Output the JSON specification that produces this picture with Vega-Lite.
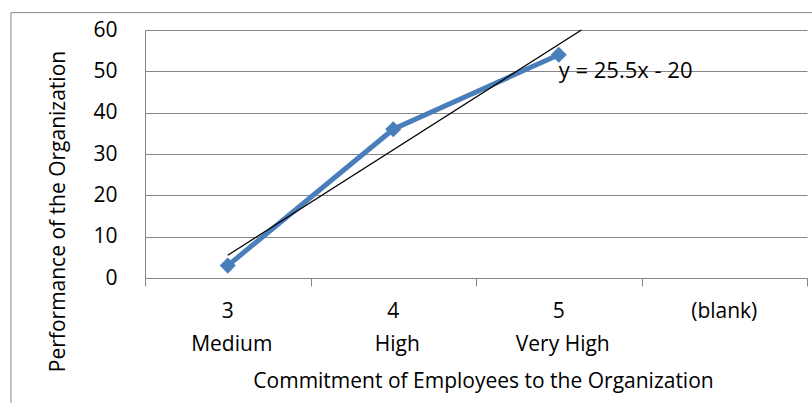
{
  "$schema": "https://vega.github.io/schema/vega-lite/v6.json",
  "width": 662,
  "height": 248,
  "autosize": "none",
  "padding": {"left": 145, "top": 30, "right": 5, "bottom": 125},
  "background": "white",
  "config": {"view": {"stroke": null}, "font": "Open Sans"},
  "datasets": {
    "series": [
      {"pos": 1, "value": 3},
      {"pos": 2, "value": 36},
      {"pos": 3, "value": 54}
    ],
    "cats": [
      {"pos": 1, "num": "3", "level": "Medium"},
      {"pos": 2, "num": "4", "level": "High"},
      {"pos": 3, "num": "5", "level": "Very High"},
      {"pos": 4, "num": "(blank)", "level": ""}
    ],
    "trend": [
      {"pos": 1, "value": 5.5},
      {"pos": 3.137, "value": 60}
    ],
    "eq": [{"pos": 3.0, "value": 50, "label": "y = 25.5x - 20"}],
    "frame": [{"x": -0.31, "x2": 5, "top": 64.2, "bottom": -32}]
  },
  "layer": [
    {
      "data": {"name": "series"},
      "mark": {"type": "line", "color": "#4A7EBB", "strokeWidth": 5},
      "encoding": {
        "x": {
          "field": "pos", "type": "quantitative",
          "scale": {"domain": [0.5, 4.5], "nice": false, "zero": false},
          "axis": {
            "values": [0.5, 1.5, 2.5, 3.5, 4.5],
            "labels": false, "grid": false,
            "domainColor": "#868686", "tickColor": "#868686", "tickSize": 8,
            "title": "Commitment of Employees to the Organization",
            "titleFont": "Open Sans", "titleFontSize": 21, "titleFontWeight": "normal",
            "titleColor": "black", "titleX": 338, "titleY": 103,
            "titleBaseline": "middle", "titleAlign": "center"
          }
        },
        "y": {
          "field": "value", "type": "quantitative",
          "scale": {"domain": [0, 60], "nice": false},
          "axis": {
            "values": [0, 10, 20, 30, 40, 50, 60],
            "ticks": false, "labelPadding": 28, "labelFontSize": 21,
            "labelColor": "black", "labelFont": "Open Sans",
            "gridColor": "#868686", "domainColor": "#868686",
            "title": "Performance of the Organization",
            "titleFont": "Open Sans", "titleFontSize": 21, "titleFontWeight": "normal",
            "titleColor": "black", "titleX": -87, "titleY": 181,
            "titleBaseline": "middle", "titleAlign": "center", "titleAngle": -90
          }
        }
      }
    },
    {
      "data": {"name": "series"},
      "mark": {"type": "point", "shape": "diamond", "filled": true, "color": "#4A7EBB", "size": 260, "opacity": 1},
      "encoding": {
        "x": {"field": "pos", "type": "quantitative"},
        "y": {"field": "value", "type": "quantitative"}
      }
    },
    {
      "data": {"name": "trend"},
      "mark": {"type": "line", "color": "black", "strokeWidth": 1.3},
      "encoding": {
        "x": {"field": "pos", "type": "quantitative"},
        "y": {"field": "value", "type": "quantitative"}
      }
    },
    {
      "data": {"name": "eq"},
      "mark": {"type": "text", "align": "left", "baseline": "middle", "fontSize": 22, "color": "black"},
      "encoding": {
        "x": {"field": "pos", "type": "quantitative"},
        "y": {"field": "value", "type": "quantitative"},
        "text": {"field": "label"}
      }
    },
    {
      "data": {"name": "cats"},
      "mark": {"type": "text", "align": "center", "baseline": "middle", "fontSize": 21, "color": "black"},
      "encoding": {
        "x": {"field": "pos", "type": "quantitative"},
        "y": {"datum": -8.2, "type": "quantitative"},
        "text": {"field": "num"}
      }
    },
    {
      "data": {"name": "cats"},
      "mark": {"type": "text", "align": "center", "baseline": "middle", "fontSize": 21, "color": "black", "dx": 4},
      "encoding": {
        "x": {"field": "pos", "type": "quantitative"},
        "y": {"datum": -16.3, "type": "quantitative"},
        "text": {"field": "level"}
      }
    },
    {
      "data": {"name": "frame"},
      "mark": {"type": "rule", "color": "#868686", "strokeWidth": 1},
      "encoding": {
        "x": {"field": "x", "type": "quantitative"},
        "y": {"field": "top", "type": "quantitative"},
        "y2": {"field": "bottom"}
      }
    },
    {
      "data": {"name": "frame"},
      "mark": {"type": "rule", "color": "#868686", "strokeWidth": 1},
      "encoding": {
        "x": {"field": "x", "type": "quantitative"},
        "x2": {"field": "x2"},
        "y": {"field": "top", "type": "quantitative"}
      }
    }
  ]
}
